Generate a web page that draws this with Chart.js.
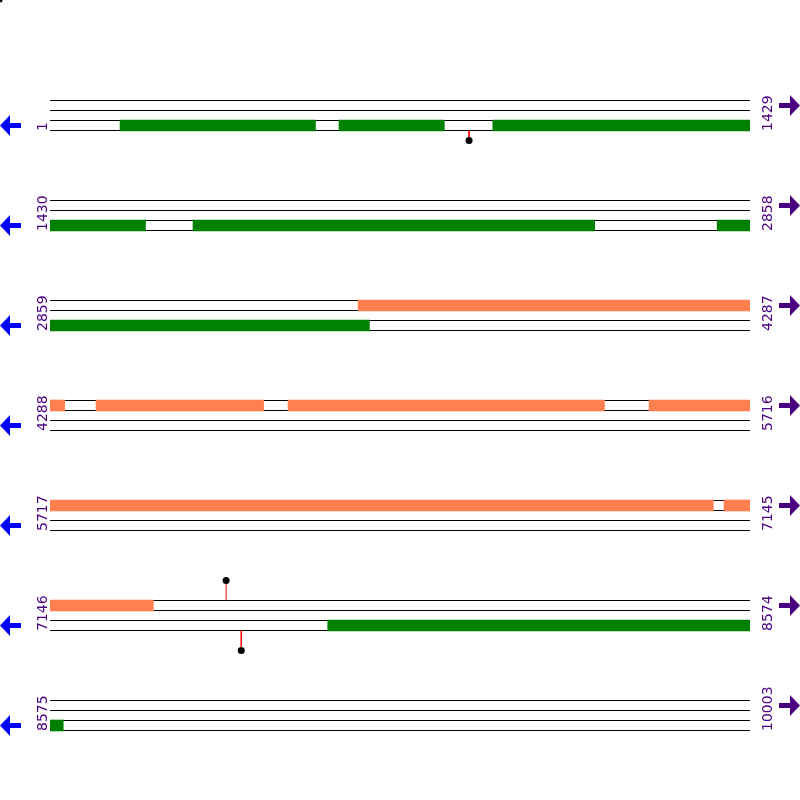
<!DOCTYPE html>
<html>
<head>
<meta charset="utf-8">
<script src="https://cdn.jsdelivr.net/npm/chart.js@4.4.1/dist/chart.umd.min.js"></script>
<style>
html,body{margin:0;padding:0;background:#fff;}
#wrap{width:800px;height:800px;}
</style>
</head>
<body>
<div id="wrap"><canvas id="c" width="800" height="800"></canvas></div>
<script>
// Row layout of the sequence (bp)
const rowStarts = [1, 1430, 2859, 4288, 5717, 7146, 8575];
const rowEnds   = [1429, 2858, 4287, 5716, 7145, 8574, 10003];
const rowLength = 1429;

// Forward-strand features (coral), genome coordinates [start, end]
const forwardSegments = [[3488, 4317], [4382, 4723], [4774, 5419], [5511, 7070], [7093, 7356]];
// Reverse-strand features (green)
const reverseSegments = [[144, 542], [591, 805], [905, 1624], [1722, 2541], [2792, 3510], [7713, 8601]];

// Lollipop markers: position, strand, stem level
const markerPositions = [856, 7505, 7536];
const markerStrands   = ['-', '+', '-'];
const markerLevels    = [1, 2, 2];

function rowOf(pos){
  for (let i = 0; i < rowStarts.length; i++) if (pos >= rowStarts[i] && pos <= rowEnds[i]) return i;
  return -1;
}
function splitSegments(segs, trackOffset){
  const out = [];
  segs.forEach(([s, e]) => {
    for (let i = 0; i < rowStarts.length; i++) {
      const a = Math.max(s, rowStarts[i]), b = Math.min(e, rowEnds[i]);
      if (a <= b) out.push({x: [a - rowStarts[i], b - rowStarts[i] + 1], y: i + 1 + trackOffset});
    }
  });
  return out;
}
const trackLines = [];
rowStarts.forEach((s, i) => {
  [0, 0.1, 0.2, 0.3].forEach(d => {
    trackLines.push({x: 0, y: i + 1 + d}, {x: rowLength, y: i + 1 + d}, {x: null, y: null});
  });
});
const stems = [], heads = [];
markerPositions.forEach((p, k) => {
  const r = rowOf(p), off = p - rowStarts[r] + 0.5;
  let y0, y1;
  if (markerStrands[k] === '+') { y0 = r + 1; y1 = y0 - 0.1 * markerLevels[k]; }
  else { y0 = r + 1.3; y1 = y0 + 0.1 * markerLevels[k]; }
  stems.push({x: off, y: y0}, {x: off, y: y1}, {x: null, y: null});
  heads.push({x: off, y: y1});
});

const decor = {
  id: 'decor',
  afterDraw(chart){
    const ctx = chart.ctx, ys = chart.scales.y, ca = chart.chartArea;
    ctx.save();
    // stray dot at origin
    ctx.fillStyle = '#000';
    ctx.beginPath(); ctx.arc(0, 0, 2.5, 0, Math.PI * 2); ctx.fill();
    ctx.font = '14px "DejaVu Sans"';
    ctx.textAlign = 'left'; ctx.textBaseline = 'alphabetic';
    rowStarts.forEach((s, i) => {
      const bottom = ys.getPixelForValue(i + 1.3) + 0.5;
      ctx.fillStyle = '#4B0082';
      [[ca.left - 3, String(s)], [ca.right + 22, String(rowEnds[i])]].forEach(([bx, t]) => {
        ctx.save(); ctx.translate(bx, bottom); ctx.rotate(-Math.PI / 2); ctx.fillText(t, 0, 0); ctx.restore();
      });
      // left (reverse) arrow
      let cy = ys.getPixelForValue(i + 1.25);
      ctx.fillStyle = '#0000FF';
      ctx.beginPath();
      ctx.moveTo(0, cy); ctx.lineTo(10, cy - 10.5); ctx.lineTo(10, cy - 2.5); ctx.lineTo(21, cy - 2.5);
      ctx.lineTo(21, cy + 2.5); ctx.lineTo(10, cy + 2.5); ctx.lineTo(10, cy + 10.5); ctx.closePath(); ctx.fill();
      // right (forward) arrow
      cy = ys.getPixelForValue(i + 1.05);
      ctx.fillStyle = '#4B0082';
      ctx.beginPath();
      ctx.moveTo(800, cy); ctx.lineTo(790, cy - 10.5); ctx.lineTo(790, cy - 2.5); ctx.lineTo(779, cy - 2.5);
      ctx.lineTo(779, cy + 2.5); ctx.lineTo(790, cy + 2.5); ctx.lineTo(790, cy + 10.5); ctx.closePath(); ctx.fill();
    });
    ctx.restore();
  }
};

new Chart(document.getElementById('c'), {
  type: 'scatter',
  data: {
    datasets: [
      {type: 'line', data: trackLines, borderColor: '#000', borderWidth: 1, pointRadius: 0, spanGaps: false, tension: 0, order: 10},
      {type: 'bar', indexAxis: 'y', data: splitSegments(forwardSegments, 0.05), backgroundColor: '#FF7F50', borderWidth: 0, barThickness: 11, grouped: false, order: 5},
      {type: 'bar', indexAxis: 'y', data: splitSegments(reverseSegments, 0.25), backgroundColor: '#008000', borderWidth: 0, barThickness: 11, grouped: false, order: 5},
      {type: 'line', data: stems, borderColor: '#FF0000', borderWidth: 1, pointRadius: 0, spanGaps: false, order: 2},
      {type: 'scatter', data: heads, backgroundColor: '#000', borderColor: '#000', pointRadius: 3.5, borderWidth: 0, order: 1}
    ]
  },
  options: {
    responsive: false,
    animation: false,
    events: [],
    layout: {autoPadding: false, padding: {left: 50, right: 50, top: 0, bottom: 0}},
    plugins: {legend: {display: false}, tooltip: {enabled: false}},
    scales: {
      x: {type: 'linear', min: 0, max: rowLength, display: false, offset: false},
      y: {type: 'linear', min: -0.005, max: 7.995, reverse: true, display: false, offset: false}
    }
  },
  plugins: [decor]
});
</script>
</body>
</html>
